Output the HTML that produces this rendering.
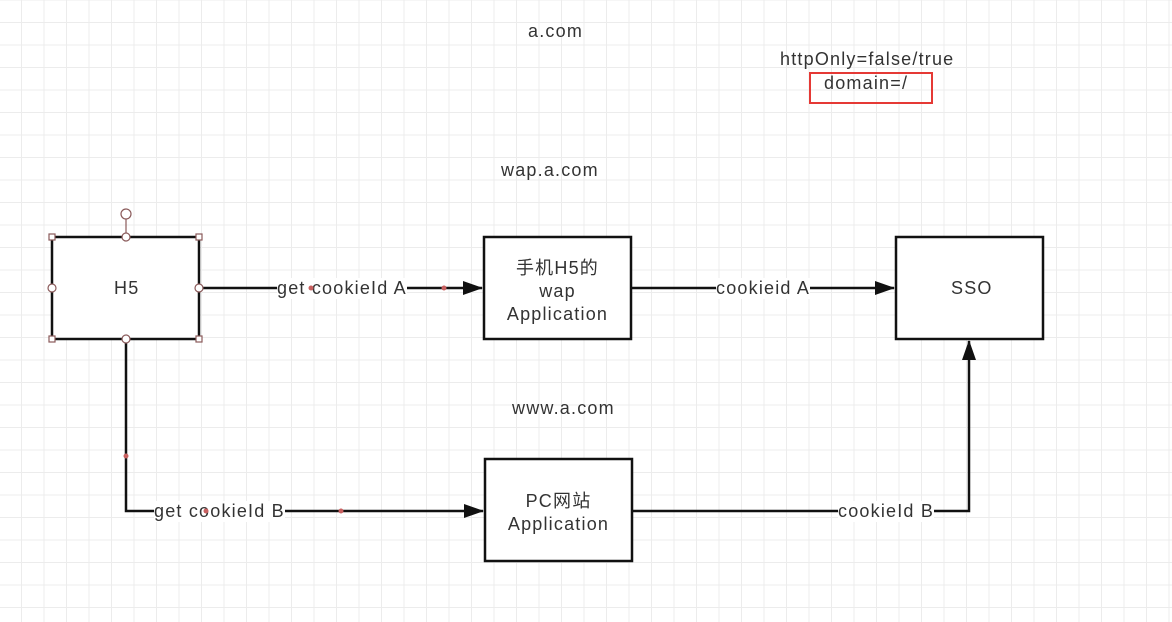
<!DOCTYPE html>
<html><head><meta charset="utf-8"><style>
html,body{margin:0;padding:0;}
body{width:1172px;height:622px;overflow:hidden;position:relative;background:#fff;
background-image:linear-gradient(to right,#ececec 1px,transparent 1px),linear-gradient(to bottom,#ececec 1px,transparent 1px);
background-size:22.5px 22.5px;background-position:21px 22px;
font-family:"Liberation Sans","Noto Sans CJK SC",sans-serif;color:#333;}
.t{position:absolute;font-size:18px;white-space:nowrap;letter-spacing:1.2px;}
</style></head><body>
<svg width="1172" height="622" style="position:absolute;left:0;top:0">
<defs><marker id="a" markerWidth="20" markerHeight="14" refX="19" refY="7" orient="auto" markerUnits="userSpaceOnUse"><path d="M0,0 L20,7 L0,14 z" fill="#111"/></marker></defs>
<g stroke="#111" stroke-width="2.5" fill="#fff">
<rect x="52" y="237" width="147" height="102"/>
<rect x="484" y="237" width="147" height="102"/>
<rect x="896" y="237" width="147" height="102"/>
<rect x="485" y="459" width="147" height="102"/>
</g>
<g stroke="#111" stroke-width="2.5" fill="none">
<line x1="199" y1="288" x2="482" y2="288" marker-end="url(#a)"/>
<line x1="631" y1="288" x2="894" y2="288" marker-end="url(#a)"/>
<polyline points="126,339 126,511 483,511" marker-end="url(#a)"/>
<polyline points="632,511 969,511 969,341" marker-end="url(#a)"/>
</g>
<rect x="810" y="73" width="122" height="30" fill="none" stroke="#e53935" stroke-width="2"/>
<g fill="#fff" stroke="#8a5a5a" stroke-width="1.2">
<line x1="126" y1="219" x2="126" y2="237"/>
<circle cx="126" cy="214" r="5"/>
<rect x="49" y="234" width="6" height="6"/><rect x="196" y="234" width="6" height="6"/>
<rect x="49" y="336" width="6" height="6"/><rect x="196" y="336" width="6" height="6"/>
<circle cx="126" cy="237" r="4"/><circle cx="126" cy="339" r="4"/>
<circle cx="52" cy="288" r="4"/><circle cx="199" cy="288" r="4"/>
</g>
<g fill="#c86060"><circle cx="444" cy="288" r="2.5"/><circle cx="126" cy="456" r="2.5"/><circle cx="341" cy="511" r="2.5"/></g>
</svg>
<div class="t" style="left:528px;top:21px">a.com</div>
<div class="t" style="left:780px;top:49px">httpOnly=false/true</div>
<div class="t" style="left:824px;top:73px">domain=/</div>
<div class="t" style="left:501px;top:160px">wap.a.com</div>
<div class="t" style="left:512px;top:398px">www.a.com</div>
<div class="t" style="left:114px;top:278px">H5</div>
<div class="t" style="left:951px;top:278px">SSO</div>
<div class="t" style="left:484px;width:147px;text-align:center;top:257px;line-height:23px">手机H5的<br>wap<br>Application</div>
<div class="t" style="left:485px;width:147px;text-align:center;top:490px;line-height:23px">PC网站<br>Application</div>
<div class="t" style="left:277px;top:278px;background:#fff">get cookieId A</div>
<div class="t" style="left:716px;top:278px;background:#fff">cookieid A</div>
<div class="t" style="left:154px;top:501px;background:#fff">get cookieId B</div>
<div class="t" style="left:838px;top:501px;background:#fff">cookieId B</div>
<svg width="1172" height="622" style="position:absolute;left:0;top:0"><g fill="#c86060"><circle cx="311" cy="288" r="2.5"/><circle cx="206" cy="511" r="2.5"/></g></svg>
</body></html>
